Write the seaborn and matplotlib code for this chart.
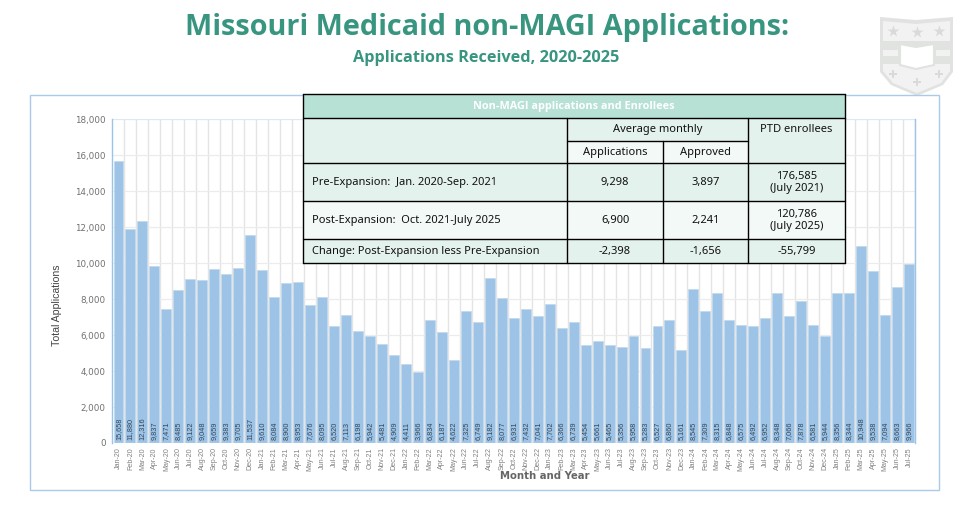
import matplotlib
matplotlib.use('Agg')
import matplotlib.pyplot as plt
import seaborn as sns
import pandas as pd
from matplotlib.patches import Rectangle, Polygon

W, H = 978, 514

years = ['20', '21', '22', '23', '24', '25']
month_names = ['Jan', 'Feb', 'Mar', 'Apr', 'May', 'Jun', 'Jul', 'Aug', 'Sep', 'Oct', 'Nov', 'Dec']

applications = [
    15658, 11880, 12316, 9837, 7471, 8485, 9122, 9048, 9659, 9383, 9705, 11537,
    9610, 8084, 8900, 8953, 7676, 8095, 6520, 7113, 6198, 5942, 5481, 4909,
    4411, 3966, 6834, 6187, 4622, 7325, 6749, 9182, 8077, 6931, 7432, 7041,
    7702, 6366, 6739, 5454, 5661, 5465, 5356, 5958, 5283, 6527, 6860, 5161,
    8545, 7309, 8315, 6848, 6575, 6492, 6952, 8348, 7066, 7878, 6581, 5944,
    8356, 8344, 10948, 9538, 7094, 8663, 9966,
]
months = [f'{m}-{y}' for y in years for m in month_names][:len(applications)]

y_ticks = [0, 2000, 4000, 6000, 8000, 10000, 12000, 14000, 16000, 18000]

table_title = 'Non-MAGI applications and Enrollees'
row_labels = ['Pre-Expansion:  Jan. 2020-Sep. 2021',
              'Post-Expansion:  Oct. 2021-July 2025',
              'Change: Post-Expansion less Pre-Expansion']
avg_applications = ['9,298', '6,900', '-2,398']
avg_approved = ['3,897', '2,241', '-1,656']
ptd_enrollees = ['176,585\n(July 2021)', '120,786\n(July 2025)', '-55,799']

GREEN = '#389580'
BAR = '#9dc3e6'
sns.set_theme(style='white')
plt.rcParams['font.family'] = ['Noto Sans', 'DejaVu Sans']

fig = plt.figure(figsize=(W / 100, H / 100), dpi=100, facecolor='white')


def px_axes(left, top, right, bottom, **kwargs):
    return fig.add_axes([left / W, 1 - bottom / H, (right - left) / W, (bottom - top) / H], **kwargs)


# page overlay in pixel coordinates, below the chart
page = px_axes(0, 0, W, H, zorder=0)
page.set_xlim(0, W)
page.set_ylim(H, 0)
page.axis('off')

page.text(487, 28, 'Missouri Medicaid non-MAGI Applications:', ha='center', va='center',
          fontsize=20.8, fontweight='bold', color=GREEN, family='Open Sans')
page.text(486, 58, 'Applications Received, 2020-2025', ha='center', va='center',
          fontsize=11.7, fontweight='bold', color=GREEN, family='Open Sans')

# shield in the corner
LOGO = '#e1e3e1'
LOGO_FILL = '#f1f2f1'
page.add_patch(Polygon([(880, 17), (916, 20), (953, 17), (953, 72), (943, 85), (917, 96), (891, 85), (880, 72)],
                       closed=True, fc=LOGO, ec='none'))
page.add_patch(Polygon([(883, 21), (916, 24), (950, 21), (950, 71), (941, 83), (917, 93), (893, 83), (883, 71)],
                       closed=True, fc=LOGO_FILL, ec='none'))
page.add_patch(Rectangle((883, 41), 67, 23, fc=LOGO, ec='none'))
page.add_patch(Rectangle((883, 50), 15, 6, fc=LOGO_FILL, ec='none'))
page.add_patch(Rectangle((936, 50), 14, 6, fc=LOGO_FILL, ec='none'))
page.add_patch(Polygon([(900, 44), (916, 47), (934, 44), (934, 65), (916, 69), (900, 65)],
                       closed=True, fc='white', ec=LOGO, lw=1.5))
page.scatter([893, 917, 939], [31, 32, 31], marker='*', s=80, color='#d9dbd9', linewidths=0)
page.scatter([893, 917, 939], [74, 82, 74], marker='P', s=36, color='#d9dbd9', linewidths=0)

# chart frame
page.add_patch(Rectangle((29.5, 94.5), 909.5, 395, fc='white', ec='#a9cbea', lw=1))

ax = px_axes(112.5, 119, 915, 443, zorder=1)
ax.patch.set_alpha(0)
df = pd.DataFrame({'month': months, 'applications': applications})
sns.barplot(data=df, x='month', y='applications', color=BAR, saturation=1, width=0.83,
            edgecolor='#bcd6ee', linewidth=0.4, ax=ax, zorder=3)
ax.set_xlim(-0.5, len(months) - 0.5)
ax.set_ylim(0, 18000)
ax.set_yticks(y_ticks)
ax.set_yticklabels([f'{v:,}' for v in y_ticks], fontsize=6.3, color='#707070', family='DejaVu Sans')
ax.set_xticks(range(len(months)))
ax.set_xticklabels(months, rotation=90, fontsize=5.1, color='#808080', family='Liberation Sans')
ax.set_xticks([i + 0.5 for i in range(len(months))], minor=True)
ax.tick_params(axis='both', which='both', length=0)
ax.tick_params(axis='x', which='major', pad=3)
ax.tick_params(axis='y', pad=5)
ax.grid(axis='y', color='#ececec', lw=0.9, zorder=0)
ax.grid(axis='x', which='minor', color='#e4e4e4', lw=1, zorder=0)
for side in ['top', 'bottom']:
    ax.spines[side].set_visible(False)
for side in ['left', 'right']:
    ax.spines[side].set_color('#9dc3e6')
    ax.spines[side].set_linewidth(1)
ax.axhline(18000, color='#dbe8f5', lw=1.5, zorder=1)
ax.axhline(0, color='#c5d9ee', lw=1, zorder=4)

for i, v in enumerate(applications):
    ax.text(i, 150, f'{v:,}', rotation=90, ha='center', va='bottom', fontsize=5.3,
            color='#33475a', family='Liberation Sans', zorder=5)

ax.set_xlabel('Month and Year', fontsize=7.3, fontweight='bold', color='#666666', family='DejaVu Sans')
ax.set_ylabel('Total Applications', fontsize=7.6, color='#444444', family='Liberation Sans')
ax.xaxis.set_label_coords((544.5 - 112.5) / 802.5, -(476 - 443) / 324)
ax.xaxis.label.set_va('center')
ax.yaxis.set_label_coords(-(112.5 - 57) / 802.5, (443 - 305) / 324)
ax.yaxis.label.set_va('center')

# summary table on top of the chart
tb = px_axes(0, 0, W, H, zorder=2)
tb.set_xlim(0, W)
tb.set_ylim(H, 0)
tb.axis('off')
tb.patch.set_alpha(0)

HEADER = '#b7e1d4'
DARK_ROW = '#e4f2ee'
LIGHT_ROW = '#f3f9f7'
X0, X1, X2, X3, X4 = 303, 567, 663, 748, 845
Y0, Y1, Y2, Y3, Y4, Y5, Y6 = 94, 118, 141, 163, 201, 239, 263
TXT = '#111111'
FS = 8


def cell(x0, y0, x1, y1, color):
    tb.add_patch(Rectangle((x0, y0), x1 - x0, y1 - y0, fc=color, ec='none'))


cell(X0, Y0, X4, Y1, HEADER)
cell(X0, Y1, X1, Y3, DARK_ROW)
cell(X1, Y1, X3, Y2, DARK_ROW)
cell(X1, Y2, X3, Y3, LIGHT_ROW)
cell(X3, Y1, X4, Y3, DARK_ROW)
cell(X0, Y3, X4, Y4, DARK_ROW)
cell(X0, Y4, X4, Y5, LIGHT_ROW)
cell(X0, Y5, X4, Y6, DARK_ROW)

for y in [Y0, Y1, Y3, Y4, Y5, Y6]:
    tb.plot([X0, X4], [y, y], color='black', lw=1)
tb.plot([X1, X3], [Y2, Y2], color='black', lw=1)
tb.plot([X0, X0], [Y0, Y6], color='black', lw=1)
tb.plot([X4, X4], [Y0, Y6], color='black', lw=1)
tb.plot([X1, X1], [Y1, Y6], color='black', lw=1)
tb.plot([X3, X3], [Y1, Y6], color='black', lw=1)
tb.plot([X2, X2], [Y2, Y6], color='black', lw=1)

tb.text((X0 + X4) / 2, (Y0 + Y1) / 2, table_title, ha='center', va='center', fontsize=7.8,
        fontweight='bold', color='white', family='Open Sans')
tb.text((X1 + X3) / 2, (Y1 + Y2) / 2, 'Average monthly', ha='center', va='center', fontsize=FS, color=TXT)
tb.text((X1 + X2) / 2, (Y2 + Y3) / 2, 'Applications', ha='center', va='center', fontsize=FS, color=TXT)
tb.text((X2 + X3) / 2, (Y2 + Y3) / 2, 'Approved', ha='center', va='center', fontsize=FS, color=TXT)
tb.text((X3 + X4) / 2, (Y1 + Y2) / 2, 'PTD enrollees', ha='center', va='center', fontsize=FS, color=TXT)

row_edges = [Y3, Y4, Y5, Y6]
for i in range(3):
    yc = (row_edges[i] + row_edges[i + 1]) / 2 + 0.5
    tb.text(X0 + 9, yc, row_labels[i], ha='left', va='center', fontsize=FS, color=TXT)
    tb.text((X1 + X2) / 2, yc, avg_applications[i], ha='center', va='center', fontsize=FS, color=TXT)
    tb.text((X2 + X3) / 2, yc, avg_approved[i], ha='center', va='center', fontsize=FS, color=TXT)
    tb.text((X3 + X4) / 2, yc, ptd_enrollees[i], ha='center', va='center', fontsize=FS, color=TXT,
            linespacing=1.1)

fig.savefig('out.png', dpi=100)
plt.close(fig)
